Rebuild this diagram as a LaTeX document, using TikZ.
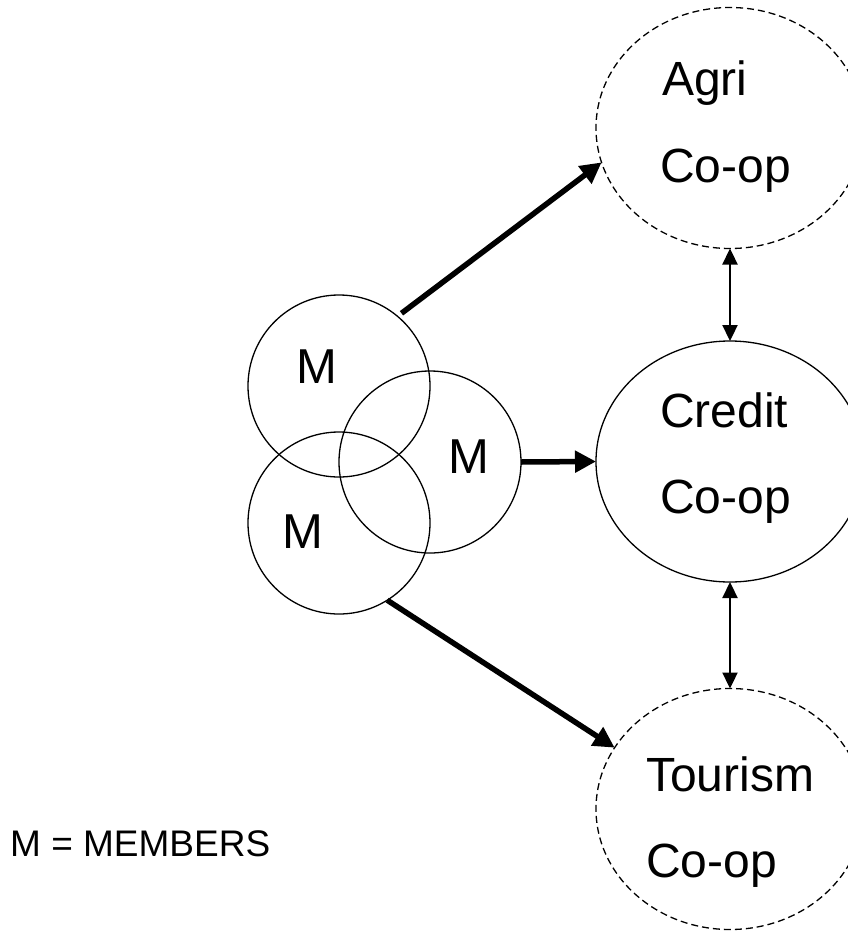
\documentclass[tikz,border=0pt]{standalone}
\usepackage{fontspec}
\setmainfont{Liberation Sans}
\usetikzlibrary{shapes.geometric,arrows.meta}
\begin{document}
\begin{tikzpicture}[x=1pt,y=-1pt,
  member/.style={circle,draw,line width=1.3pt,minimum size=182pt,inner sep=0pt,outer sep=0pt},
  coop/.style={ellipse,draw,line width=1.3pt,minimum width=268pt,minimum height=241pt,inner sep=0pt,outer sep=0pt},
  dashedcoop/.style={coop,dash pattern=on 7pt off 4pt},
  bigtxt/.style={font=\fontsize{48}{57}\selectfont,inner sep=0pt,anchor=base west},
  mtxt/.style={font=\fontsize{49}{58}\selectfont,inner sep=0pt,anchor=base},
  legend/.style={font=\fontsize{37}{44}\selectfont,inner sep=0pt,anchor=base west},
  flow/.style={line width=5.5pt,-{Triangle[length=21pt,width=21pt]}},
  link/.style={line width=2.3pt,{Triangle[length=16pt,width=15pt]}-{Triangle[length=16pt,width=15pt]}}
]
\useasboundingbox (0,0) rectangle (848,932);
% member circles
\node[member] (m1) at (339,386) {};
\node[member] (m2) at (430,462) {};
\node[member] (m3) at (339,523) {};
\node[mtxt] (m1t) at (317,383) {M};
\node[mtxt] (m2t) at (469,473) {M};
\node[mtxt] (m3t) at (303,548) {M};
% co-ops
\node[dashedcoop] (agri) at (730,128) {};
\node[coop] (credit) at (730,461.5) {};
\node[dashedcoop] (tour) at (730,809) {};
\node[bigtxt] (agri1) at (662,95) {Agri};
\node[bigtxt] (agri2) at (660,182) {Co-op};
\node[bigtxt] (cred1) at (660,427) {Credit};
\node[bigtxt] (cred2) at (660,513) {Co-op};
\node[bigtxt] (tour1) at (646,791) {Tourism};
\node[bigtxt] (tour2) at (646,877) {Co-op};
% legend
\node[legend] (leg) at (10,856) {M = MEMBERS};
% arrows
\draw[flow,shorten <=5pt] (m1.50) -- (agri.195);
\draw[flow] (m2.east) -- (credit.west);
\draw[flow] (m3.-58) -- (tour.152);
\draw[link] (agri.south) -- (credit.north);
\draw[link] (credit.south) -- (tour.north);
\end{tikzpicture}
\end{document}
